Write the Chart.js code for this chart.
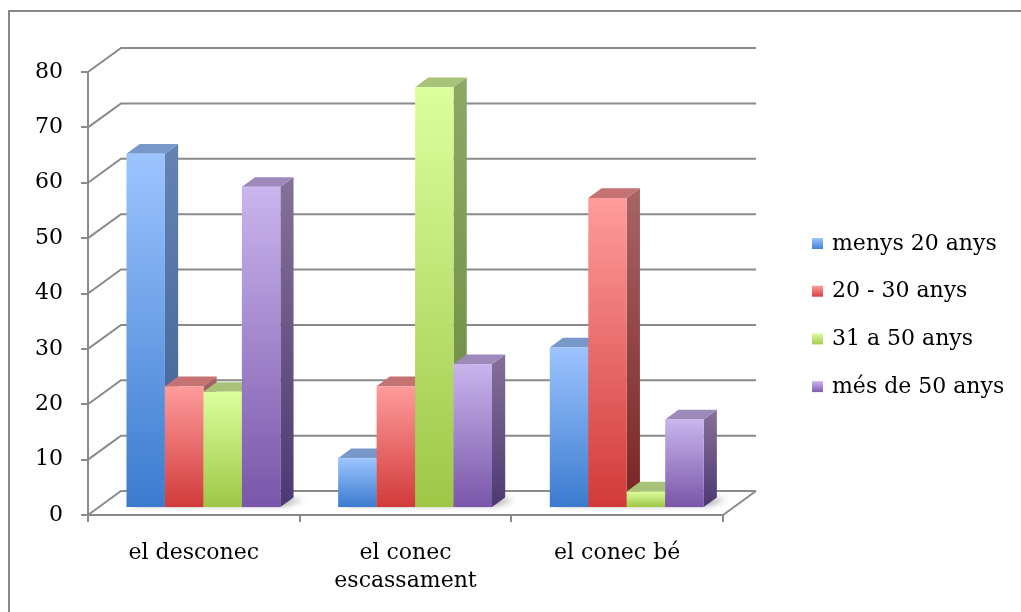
<!DOCTYPE html>
<html>
<head>
<meta charset="utf-8">
<script src="https://cdn.jsdelivr.net/npm/chart.js@4.4.1/dist/chart.umd.min.js"></script>
<style>
  html, body { margin: 0; padding: 0; background: #fff; }
  #wrap { width: 1021px; height: 612px; position: relative; }
</style>
</head>
<body>
<div id="wrap"><canvas id="c" width="1021" height="612"></canvas></div>
<script>
// Categories and series
const categories = [['el desconec'], ['el conec', 'escassament'], ['el conec bé']];
const seriesNames = ['menys 20 anys', '20 - 30 anys', '31 a 50 anys', 'més de 50 anys'];
const menys20 = [64, 9, 29];
const de20a30 = [22, 22, 56];
const de31a50 = [21, 76, 3];
const mesDe50 = [58, 26, 16];
const yMin = 0;
const yMax = 80;
const yStep = 10;

// Shading per series: front face (top -> bottom), side face (top -> bottom), top face
const palette = [
  { front: ['#9dc4ff', '#3b7bcf'], side: ['#6583b3', '#3d5e92'], top: '#7898ca' },
  { front: ['#ff9c9c', '#d23a3a'], side: ['#a86464', '#7a2424'], top: '#c47272' },
  { front: ['#dcff9e', '#9fc646'], side: ['#8ea866', '#67893a'], top: '#a9c27a' },
  { front: ['#cab5ee', '#7956a9'], side: ['#877099', '#4d3972'], top: '#9d8abb' }
];
const seriesValues = [menys20, de20a30, de31a50, mesDe50];

// Oblique depth of the plot box and where the bars sit inside it
const DEPTH_X = 33, DEPTH_Y = -24;
const BAR_FRONT = 0.29, BAR_DEPTH = 0.40;
const GRID = '#8a8a8a';
const FONT = "'DejaVu Serif', serif";

const frameAndBars = {
  id: 'frameAndBars',
  beforeDraw(chart) {
    const ctx = chart.ctx;
    ctx.save();
    ctx.fillStyle = '#fff';
    ctx.fillRect(0, 0, chart.width, chart.height);
    ctx.strokeStyle = '#888';
    ctx.lineWidth = 2;
    ctx.strokeRect(9, 11, chart.width + 20, chart.height + 20);
    ctx.restore();
  },
  beforeDatasetsDraw(chart) {
    const ctx = chart.ctx;
    const y = chart.scales.y;
    const L = chart.chartArea.left, R = chart.chartArea.right;
    ctx.save();
    ctx.strokeStyle = GRID;
    ctx.lineWidth = 2;
    ctx.lineCap = 'butt';
    // side wall diagonals and back wall lines
    for (let v = yMin; v <= yMax; v += yStep) {
      const py = y.getPixelForValue(v);
      ctx.beginPath();
      ctx.moveTo(L, py);
      ctx.lineTo(L + DEPTH_X, py + DEPTH_Y);
      ctx.lineTo(R + DEPTH_X, py + DEPTH_Y);
      ctx.stroke();
    }
    // floor right edge
    const p0 = y.getPixelForValue(yMin);
    ctx.beginPath();
    ctx.moveTo(R, p0);
    ctx.lineTo(R + DEPTH_X, p0 + DEPTH_Y);
    ctx.stroke();

    // soft floor shadows under each group
    const fx = DEPTH_X * BAR_FRONT, fy = DEPTH_Y * BAR_FRONT;
    const dx = DEPTH_X * BAR_DEPTH, dy = DEPTH_Y * BAR_DEPTH;
    const first = chart.getDatasetMeta(0), last = chart.getDatasetMeta(chart.data.datasets.length - 1);
    ctx.filter = 'blur(3px)';
    ctx.fillStyle = 'rgba(0,0,0,0.45)';
    for (let j = 0; j < categories.length; j++) {
      const a = first.data[j], b = last.data[j];
      const left = a.x - a.width / 2 + fx, right = b.x + b.width / 2 + fx;
      const base = a.base + fy;
      ctx.beginPath();
      ctx.moveTo(left + 4, base - 2);
      ctx.lineTo(right + 4, base - 2);
      ctx.lineTo(right + dx + 10, base + dy + 2);
      ctx.lineTo(left + dx + 4, base + dy + 2);
      ctx.closePath();
      ctx.fill();
    }
    ctx.restore();
  },
  beforeDatasetDraw() {
    return false;
  },
  afterDatasetsDraw(chart) {
    const ctx = chart.ctx;
    const fx = DEPTH_X * BAR_FRONT, fy = DEPTH_Y * BAR_FRONT;
    const dx = DEPTH_X * BAR_DEPTH, dy = DEPTH_Y * BAR_DEPTH;
    ctx.save();
    for (let j = 0; j < categories.length; j++) {
      for (let i = 0; i < chart.data.datasets.length; i++) {
        const el = chart.getDatasetMeta(i).data[j];
        const p = palette[i];
        const left = el.x - el.width / 2 + fx;
        const right = left + el.width;
        const top = el.y + fy;
        const bottom = el.base + fy;
        // side face
        let g = ctx.createLinearGradient(0, top + dy, 0, bottom);
        g.addColorStop(0, p.side[0]);
        g.addColorStop(1, p.side[1]);
        ctx.fillStyle = g;
        ctx.beginPath();
        ctx.moveTo(right, top);
        ctx.lineTo(right + dx, top + dy);
        ctx.lineTo(right + dx, bottom + dy);
        ctx.lineTo(right, bottom);
        ctx.closePath();
        ctx.fill();
        // top face
        ctx.fillStyle = p.top;
        ctx.beginPath();
        ctx.moveTo(left, top);
        ctx.lineTo(left + dx, top + dy);
        ctx.lineTo(right + dx, top + dy);
        ctx.lineTo(right, top);
        ctx.closePath();
        ctx.fill();
        // front face
        g = ctx.createLinearGradient(0, top, 0, bottom);
        g.addColorStop(0, p.front[0]);
        g.addColorStop(1, p.front[1]);
        ctx.fillStyle = g;
        ctx.fillRect(left, top, right - left, bottom - top);
      }
    }
    ctx.restore();
  },
  afterDraw(chart) {
    // legend
    const ctx = chart.ctx;
    ctx.save();
    ctx.font = '22px ' + FONT;
    ctx.textBaseline = 'middle';
    ctx.textAlign = 'left';
    chart.data.datasets.forEach((ds, i) => {
      const cy = 244 + i * 47.7;
      const g = ctx.createLinearGradient(0, cy - 6, 0, cy + 6);
      g.addColorStop(0, palette[i].front[0]);
      g.addColorStop(1, palette[i].front[1]);
      ctx.fillStyle = g;
      ctx.fillRect(812, cy - 6, 11, 11);
      ctx.fillStyle = '#000';
      ctx.fillText(ds.label, 832, cy);
    });
    ctx.restore();
  }
};

const chart = new Chart(document.getElementById('c'), {
  type: 'bar',
  data: {
    labels: categories,
    datasets: seriesNames.map((name, i) => ({
      label: name,
      data: seriesValues[i],
      backgroundColor: palette[i].front[1],
      barPercentage: 1,
      categoryPercentage: 0.727
    }))
  },
  options: {
    responsive: false,
    devicePixelRatio: 1,
    animation: false,
    layout: { padding: { top: 72, right: 298, left: 0, bottom: 0 } },
    plugins: { legend: { display: false }, tooltip: { enabled: false } },
    scales: {
      y: {
        min: yMin, max: yMax,
        ticks: { stepSize: yStep, color: '#000', padding: 18, font: { family: FONT, size: 22 } },
        grid: { drawOnChartArea: false, drawTicks: true, tickLength: 7, color: GRID, lineWidth: 2 },
        border: { display: true, color: GRID, width: 2 },
        afterFit(s) { s.width = 88; }
      },
      x: {
        offset: true,
        ticks: { color: '#000', padding: 17, maxRotation: 0, autoSkip: false,
                 font: { family: FONT, size: 22, lineHeight: 1.27 } },
        grid: { offset: true, drawOnChartArea: false, drawTicks: true, tickLength: 7, color: GRID, lineWidth: 2 },
        border: { display: true, color: GRID, width: 2 },
        afterFit(s) { s.height = 97; }
      }
    }
  },
  plugins: [frameAndBars]
});
</script>
</body>
</html>
